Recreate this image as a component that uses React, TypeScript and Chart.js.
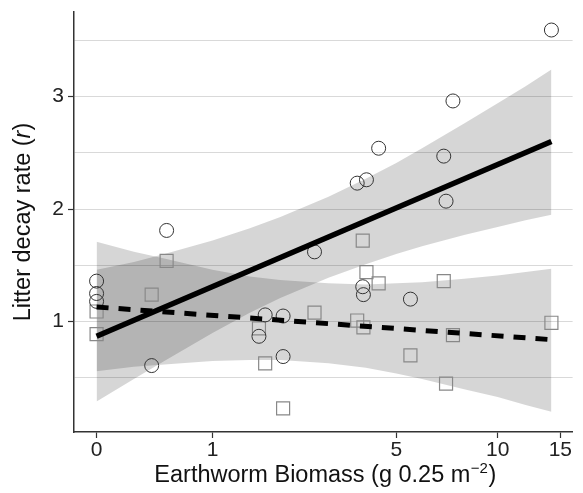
import React, { useEffect, useRef } from "react";
import { Chart, registerables } from "chart.js";

Chart.register(...registerables);

// Earthworm biomass (g 0.25 m^-2) and litter decay rate (r)
const circleBiomass = [0, 0, 0, 0.39, 0.52, 1.64, 1.74, 2.05, 2.05, 2.68, 3.75, 4.02, 3.91, 3.93, 4.4, 5.53, 6.97, 7.08, 7.42, 14.17];
const circleDecay = [1.36, 1.25, 1.18, 0.61, 1.81, 0.87, 1.06, 1.05, 0.69, 1.62, 2.23, 2.26, 1.31, 1.24, 2.54, 1.2, 2.47, 2.07, 2.96, 3.59];

const squareBiomass = [0, 0, 0.39, 0.52, 1.64, 1.74, 2.05, 2.68, 3.75, 3.91, 3.93, 4.02, 4.4, 5.53, 6.97, 7.08, 7.42, 14.17];
const squareDecay = [1.09, 0.89, 1.24, 1.54, 0.94, 0.63, 0.23, 1.08, 1.01, 1.72, 0.95, 1.44, 1.34, 0.7, 1.36, 0.45, 0.88, 0.99];

// confidence bands
const bandBiomass = [0, 0.25, 0.5, 1, 1.5, 2, 3, 4, 5, 6, 8, 10, 12, 14.17];
const circleBandLow = [0.29, 0.49, 0.65, 0.9, 1.08, 1.21, 1.39, 1.51, 1.6, 1.67, 1.77, 1.84, 1.9, 1.95];
const circleBandHigh = [1.46, 1.53, 1.6, 1.72, 1.83, 1.93, 2.11, 2.27, 2.41, 2.54, 2.76, 2.94, 3.09, 3.24];
const squareBandLow = [0.56, 0.6, 0.62, 0.65, 0.66, 0.66, 0.63, 0.59, 0.54, 0.49, 0.4, 0.33, 0.26, 0.2];
const squareBandHigh = [1.71, 1.62, 1.56, 1.46, 1.4, 1.37, 1.34, 1.33, 1.34, 1.35, 1.38, 1.41, 1.44, 1.47];

// fitted lines
const fitBiomass = [0, 14.17];
const circleFit = [0.87, 2.6];
const squareFit = [1.13, 0.84];

// axes
const xTickLabels = [0, 1, 5, 10, 15];
const yGridValues = [0.5, 1, 1.5, 2, 2.5, 3, 3.5];

const tx = (v: number) => Math.log1p(v);
const pts = (xs: number[], ys: number[]) => xs.map((x, i) => ({ x: tx(x), y: ys[i] }));

const FONT = "'Liberation Sans', Arial, Helvetica, sans-serif";
const BAND = "rgba(0,0,0,0.16)";
const CLEAR = "rgba(0,0,0,0)";

const titlePlugin = {
  id: "customTitles",
  afterDraw(chart: any) {
    const ctx = chart.ctx as CanvasRenderingContext2D;
    const area = chart.chartArea;
    const size = 23.5;
    ctx.save();
    ctx.fillStyle = "#111";
    ctx.textBaseline = "alphabetic";
    ctx.textAlign = "left";
    // x title
    const n = `${size}px ${FONT}`;
    const sup = `15px ${FONT}`;
    const p1 = "Earthworm Biomass (g 0.25 m";
    const p2 = "\u22122";
    const p3 = ")";
    ctx.font = n;
    const w1 = ctx.measureText(p1).width;
    const w3 = ctx.measureText(p3).width;
    ctx.font = sup;
    const w2 = ctx.measureText(p2).width;
    const total = w1 + w2 + w3 + 1;
    let x = (area.left + area.right) / 2 - total / 2 + 2;
    const yb = 482;
    ctx.font = n;
    ctx.fillText(p1, x, yb);
    x += w1 + 0.5;
    ctx.font = sup;
    ctx.fillText(p2, x, yb - 9);
    x += w2 + 0.5;
    ctx.font = n;
    ctx.fillText(p3, x, yb);

    // y title
    const q1 = "Litter decay rate (";
    const q2 = "r";
    const q3 = ")";
    const it = `italic ${size}px ${FONT}`;
    ctx.font = n;
    const v1 = ctx.measureText(q1).width;
    const v3 = ctx.measureText(q3).width;
    ctx.font = it;
    const v2 = ctx.measureText(q2).width;
    const tot = v1 + v2 + v3;
    ctx.translate(30, (area.top + area.bottom) / 2);
    ctx.rotate(-Math.PI / 2);
    let s = -tot / 2;
    ctx.font = n;
    ctx.fillText(q1, s, 0);
    s += v1;
    ctx.font = it;
    ctx.fillText(q2, s, 0);
    s += v2;
    ctx.font = n;
    ctx.fillText(q3, s, 0);
    ctx.restore();
  },
};

export default function App() {
  const ref = useRef<HTMLCanvasElement | null>(null);

  useEffect(() => {
    document.body.style.margin = "0";
    const canvas = ref.current;
    if (!canvas) return;
    const lineBase = { showLine: true, pointRadius: 0, tension: 0, fill: false };
    const chart = new Chart(canvas, {
      type: "scatter",
      data: {
        datasets: [
          { ...lineBase, label: "squareLow", data: pts(bandBiomass, squareBandLow), borderColor: CLEAR, borderWidth: 1, order: 3 },
          { ...lineBase, label: "squareHigh", data: pts(bandBiomass, squareBandHigh), borderColor: CLEAR, borderWidth: 1, fill: "-1", backgroundColor: BAND, order: 3 },
          { ...lineBase, label: "circleLow", data: pts(bandBiomass, circleBandLow), borderColor: CLEAR, borderWidth: 1, order: 3 },
          { ...lineBase, label: "circleHigh", data: pts(bandBiomass, circleBandHigh), borderColor: CLEAR, borderWidth: 1, fill: "-1", backgroundColor: BAND, order: 3 },
          {
            label: "circles",
            data: pts(circleBiomass, circleDecay),
            pointStyle: "circle",
            pointRadius: 7,
            borderColor: "#333",
            backgroundColor: CLEAR,
            borderWidth: 1,
            order: 1,
          },
          {
            label: "squares",
            data: pts(squareBiomass, squareDecay),
            pointStyle: "rect",
            pointRadius: 9.2,
            borderColor: "#888",
            backgroundColor: CLEAR,
            borderWidth: 1.2,
            order: 1,
          },
          { ...lineBase, label: "circleFit", data: pts(fitBiomass, circleFit), borderColor: "#000", borderWidth: 5.5, borderCapStyle: "butt", order: 0 },
          { ...lineBase, label: "squareFit", data: pts(fitBiomass, squareFit), borderColor: "#000", borderWidth: 5, borderDash: [12, 10], borderCapStyle: "butt", order: 0 },
        ],
      },
      options: {
        responsive: false,
        animation: false,
        events: [],
        layout: { padding: { top: 12, right: 3, left: 0, bottom: 0 } },
        plugins: { legend: { display: false }, tooltip: { enabled: false }, title: { display: false } },
        scales: {
          x: {
            type: "linear",
            min: -0.135,
            max: 2.846,
            afterBuildTicks: (scale: any) => {
              scale.ticks = xTickLabels.map((v) => ({ value: tx(v) }));
            },
            afterFit: (scale: any) => {
              scale.height = 61;
              scale.paddingLeft = 0;
              scale.paddingRight = 0;
            },
            ticks: {
              autoSkip: false,
              maxRotation: 0,
              padding: 0,
              color: "#222",
              font: { family: FONT, size: 21 },
              callback: (_v: any, i: number) => String(xTickLabels[i]),
            },
            grid: { drawOnChartArea: false, drawTicks: true, tickLength: 6, tickColor: "#333", tickWidth: 1.2 },
            border: { display: true, color: "#333", width: 1.5 },
          },
          y: {
            type: "linear",
            min: 0.02,
            max: 3.75,
            afterBuildTicks: (scale: any) => {
              scale.ticks = yGridValues.map((v) => ({ value: v }));
            },
            afterFit: (scale: any) => {
              scale.width = 74;
              scale.paddingTop = 0;
              scale.paddingBottom = 0;
            },
            ticks: {
              autoSkip: false,
              padding: 4,
              color: "#222",
              font: { family: FONT, size: 21 },
              callback: (v: any) => (Number.isInteger(Number(v)) ? String(v) : ""),
            },
            grid: {
              color: "#d9d9d9",
              lineWidth: 1,
              drawTicks: true,
              tickLength: 6,
              tickWidth: 1.2,
              tickColor: (c: any) => (c.tick && Number.isInteger(c.tick.value) ? "#333" : CLEAR),
            },
            border: { display: true, color: "#333", width: 1.5 },
          },
        },
      },
      plugins: [titlePlugin],
    } as any);
    return () => chart.destroy();
  }, []);

  return (
    <div style={{ position: "fixed", left: 0, top: 0, width: 583, height: 493, background: "#fff" }}>
      <canvas ref={ref} width={583} height={493} style={{ display: "block", width: 583, height: 493 }} />
    </div>
  );
}
